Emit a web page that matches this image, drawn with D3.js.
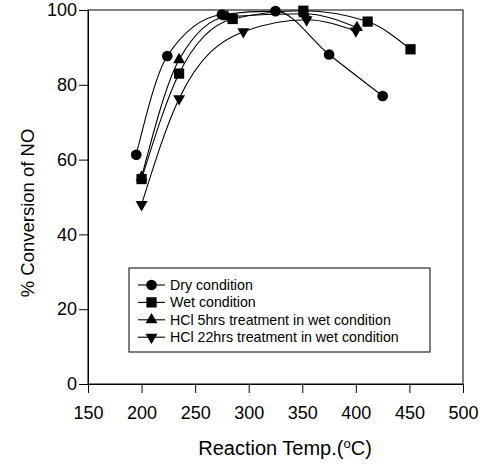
<!DOCTYPE html>
<html>
<head>
<meta charset="utf-8">
<script src="https://cdn.jsdelivr.net/npm/d3@7"></script>
<style>
  body { margin: 0; background: #fff; }
  text { font-family: "Liberation Sans", Arial, sans-serif; fill: #000; }
</style>
</head>
<body>
<svg width="486" height="464"></svg>
<script>
// data
var seriesNames = ["Dry condition", "Wet condition",
    "HCl 5hrs treatment in wet condition", "HCl 22hrs treatment in wet condition"];
var dryT = [195, 224, 275, 325, 375, 425];
var dryV = [61.3, 87.7, 98.8, 99.7, 88.1, 77.0];
var wetT = [200, 235, 285, 351, 411, 451];
var wetV = [54.8, 83.0, 97.6, 99.8, 96.9, 89.5];
var hcl5T = [200, 235, 280, 352, 401];
var hcl5V = [55.3, 86.7, 98.2, 99.0, 95.3];
var hcl22T = [200, 235, 295, 354, 400];
var hcl22V = [48.0, 76.3, 94.2, 97.4, 94.4];
var xTicks = [150, 200, 250, 300, 350, 400, 450, 500];
var yTicks = [0, 20, 40, 60, 80, 100];

var svg = d3.select("svg");
var margin = {top: 10, right: 23, bottom: 80, left: 88};
var width = 486 - margin.left - margin.right;
var height = 464 - margin.top - margin.bottom;

var g = svg.append("g")
    .attr("transform", "translate(" + margin.left + "," + margin.top + ")");

var x = d3.scaleLinear().domain([150, 500]).range([0, width]);
var y = d3.scaleLinear().domain([0, 100]).range([height, 0]);

// frame
g.append("rect")
    .attr("width", width).attr("height", height)
    .attr("fill", "none").attr("stroke", "#000").attr("stroke-width", 1);

var xAxis = g.append("g")
    .attr("transform", "translate(0," + height + ")")
    .call(d3.axisBottom(x).tickValues(xTicks).tickSize(9).tickPadding(13).tickFormat(d3.format("d")));
var yAxis = g.append("g")
    .call(d3.axisLeft(y).tickValues(yTicks).tickSize(9).tickPadding(2));
[xAxis, yAxis].forEach(function(a) {
    a.select(".domain").attr("stroke", "#000");
    a.selectAll(".tick line").attr("stroke", "#000");
    a.selectAll("text").attr("font-size", 18).attr("font-family", "Liberation Sans, Arial, sans-serif");
});

// axis titles
var xt = svg.append("text")
    .attr("x", 285).attr("y", 455)
    .attr("text-anchor", "middle").attr("font-size", 20);
xt.append("tspan").text("Reaction Temp.(");
xt.append("tspan").text("o").attr("font-size", 13).attr("dy", -7);
xt.append("tspan").text("C)").attr("dy", 7);

svg.append("text")
    .attr("transform", "translate(34,213) rotate(-90)")
    .attr("text-anchor", "middle").attr("font-size", 18.5)
    .text("% Conversion of NO");

var series = [
    {t: dryT, v: dryV, sym: d3.symbolCircle, size: 90},
    {t: wetT, v: wetV, sym: d3.symbolSquare, size: 105},
    {t: hcl5T, v: hcl5V, sym: d3.symbolTriangle, size: 62, rot: 0},
    {t: hcl22T, v: hcl22V, sym: d3.symbolTriangle, size: 62, rot: 180}
];

var line = d3.line()
    .x(function(d) { return x(d[0]); })
    .y(function(d) { return y(d[1]); })
    .curve(d3.curveMonotoneX);

series.forEach(function(s) {
    var pts = s.t.map(function(t, i) { return [t, s.v[i]]; });
    g.append("path").datum(pts)
        .attr("d", line)
        .attr("fill", "none").attr("stroke", "#000").attr("stroke-width", 1.1);
});

series.forEach(function(s) {
    var pts = s.t.map(function(t, i) { return [t, s.v[i]]; });
    g.selectAll(null).data(pts).enter().append("path")
        .attr("d", d3.symbol().type(s.sym).size(s.size))
        .attr("transform", function(d) {
            return "translate(" + x(d[0]) + "," + y(d[1]) + ")" + (s.rot ? " rotate(" + s.rot + ")" : "");
        })
        .attr("fill", "#000");
});

// legend
var lg = svg.append("g").attr("transform", "translate(129,268)");
lg.append("rect").attr("width", 301).attr("height", 84)
    .attr("fill", "#fff").attr("stroke", "#000").attr("stroke-width", 1);
series.forEach(function(s, i) {
    var ly = 17 + i * 17.4;
    lg.append("line").attr("x1", 9).attr("x2", 36).attr("y1", ly).attr("y2", ly)
        .attr("stroke", "#000").attr("stroke-width", 1.1);
    lg.append("path")
        .attr("d", d3.symbol().type(s.sym).size(s.size))
        .attr("transform", "translate(22.5," + ly + ")" + (s.rot ? " rotate(" + s.rot + ")" : ""))
        .attr("fill", "#000");
    lg.append("text").attr("x", 41).attr("y", ly + 5)
        .attr("font-size", 14.2).text(seriesNames[i]);
});
</script>
</body>
</html>
